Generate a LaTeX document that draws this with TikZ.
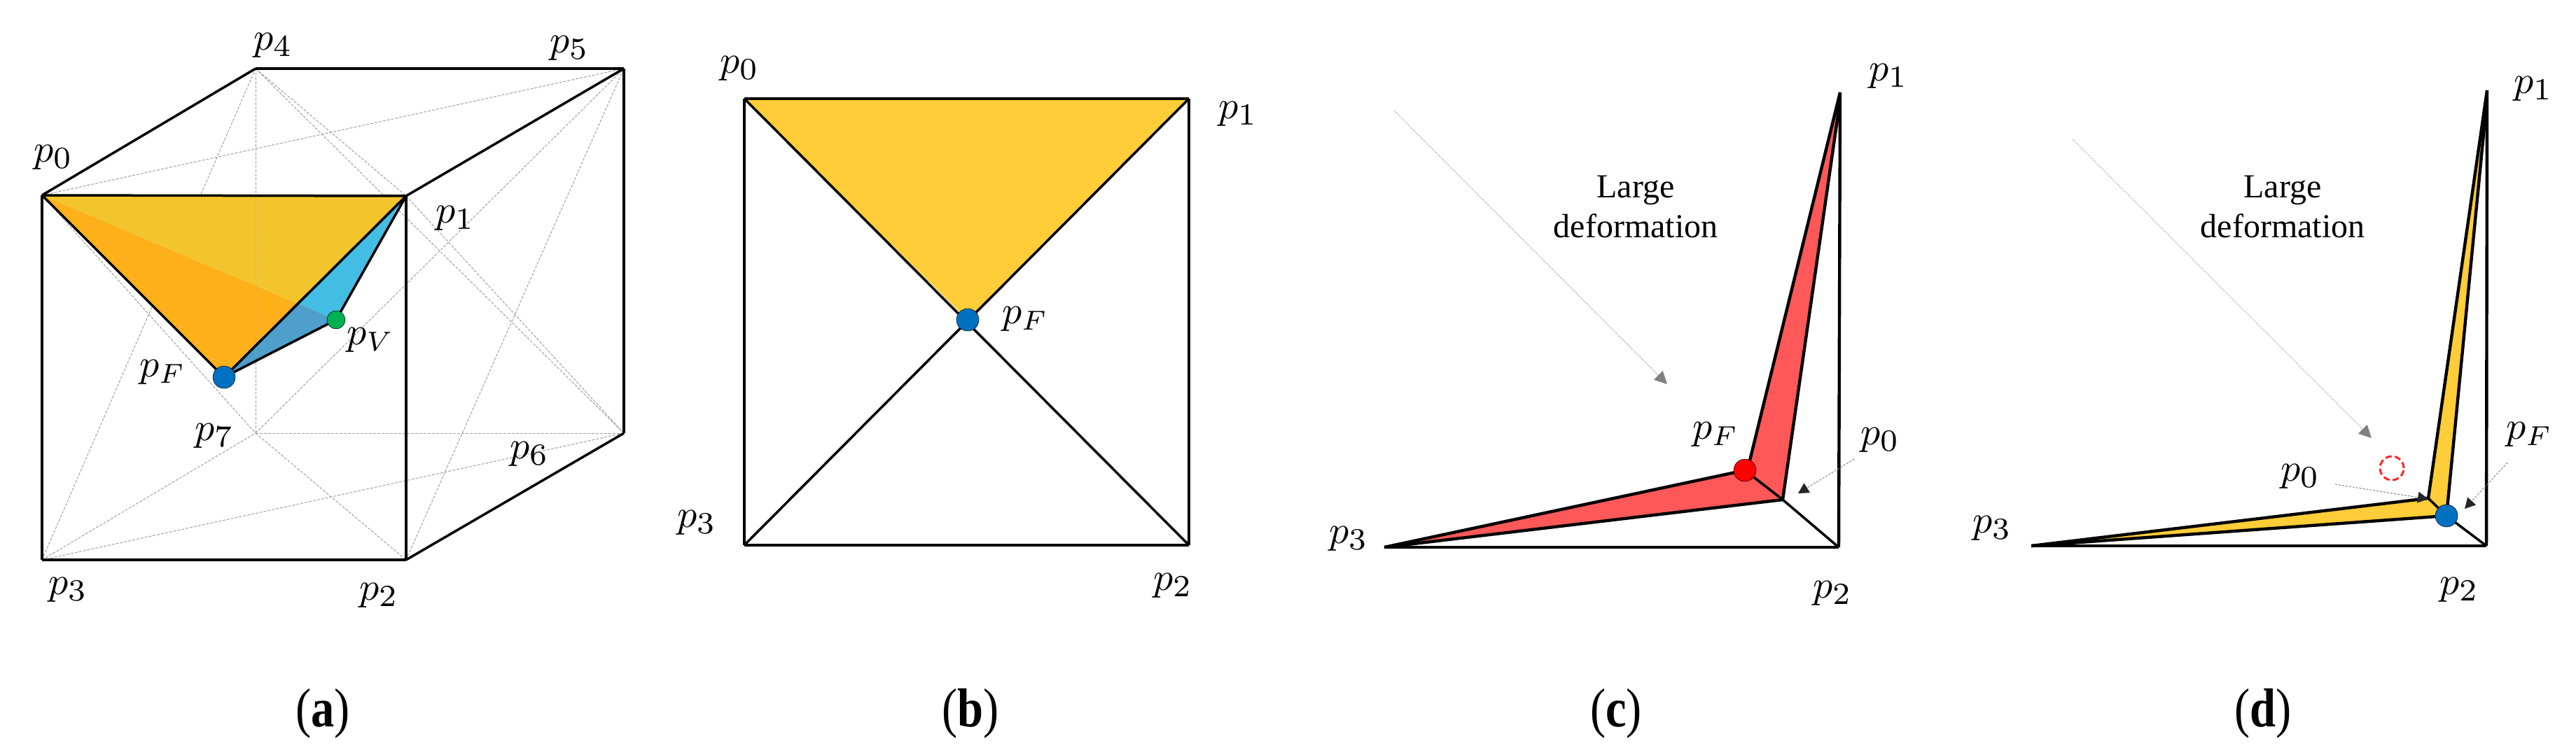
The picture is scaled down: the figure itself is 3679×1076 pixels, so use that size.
\documentclass[tikz,border=0pt]{standalone}
\usepackage{fontspec}
\setmainfont{Liberation Serif}
\usetikzlibrary{arrows.meta,calc}
\definecolor{gold}{HTML}{FFCD37}
\definecolor{ambertop}{HTML}{F2C52C}
\definecolor{amberlow}{HTML}{FDB01A}
\definecolor{skyblue}{HTML}{43BDE3}
\definecolor{steelb}{HTML}{4E9FCB}
\definecolor{dotblue}{HTML}{0070C0}
\definecolor{dotgreen}{HTML}{00B050}
\definecolor{salmon}{HTML}{FF5858}
\newcommand{\psb}[1]{$p_{\scalebox{1.12}{$\scriptstyle #1$}}$}
\tikzset{
 x=1pt,y=-1pt,
 blackedge/.style={line width=3.5pt,black,line join=miter},
 heavyedge/.style={line width=4.4pt,black},
 hiddenline/.style={line width=1pt,gray!75,dash pattern=on 4pt off 2pt},
 lbl/.style={scale=5.6,inner sep=0pt},
 caplabel/.style={xscale=.95,yscale=1.12,inner sep=0pt,font=\fontsize{70}{70}\selectfont},
 dotnode/.style={circle,draw=black,line width=0.5pt,inner sep=0pt,minimum size=32pt},
 bigtext/.style={font=\fontsize{48}{57}\selectfont,align=center,inner sep=0pt},
 grayarrow/.style={line width=1pt,gray!70,dash pattern=on 2pt off 1.5pt,-{Triangle[length=18pt,width=18pt,color=gray]}},
 blackarrow/.style={line width=1pt,gray,dash pattern=on 3pt off 2pt,-{Triangle[length=15pt,width=16pt,color=black!85]}},
}
\begin{document}
\begin{tikzpicture}
\useasboundingbox (0,0) rectangle (3679,1076);
% ---------- panel (a)
\coordinate (a0) at (60,279);
\coordinate (a1) at (580,280);
\coordinate (a2) at (580,800);
\coordinate (a3) at (60,800);
\coordinate (a4) at (365,98);
\coordinate (a5) at (891,98);
\coordinate (a6) at (891,619);
\coordinate (a7) at (365,619);
\coordinate (aF) at (320,539);
\coordinate (aV) at (480,457);
\coordinate (aX) at (intersection of a0--aV and a1--aF);
\foreach \u/\v in {a4/a7,a7/a6,a0/a5,a3/a6,a3/a4,a3/a7,a4/a1,a1/a6,a4/a6,a0/a7,a7/a2,a2/a5,a7/a5}
  \draw[hiddenline] (\u) -- (\v);
\fill[ambertop] (a0) -- (a1) -- (aX) -- cycle;
\fill[amberlow] (a0) -- (aX) -- (aF) -- cycle;
\fill[skyblue] (a1) -- (aV) -- (aX) -- cycle;
\fill[steelb] (aX) -- (aV) -- (aF) -- cycle;
\draw[hiddenline,opacity=.35] (a4) -- (a7);
\foreach \u/\v in {a0/a4,a4/a5,a5/a1,a6/a2,a0/a3,a3/a2,a2/a1,a0/a1,a0/aF,aF/a1,a1/aV,aV/aF}
  \draw[blackedge] (\u) -- (\v);
\draw[heavyedge] (a5) -- (a6);
\node[dotnode,fill=dotblue] (adF) at (aF) {};
\node[dotnode,fill=dotgreen,minimum size=26pt] (adV) at (aV) {};
\node[lbl] (la0) at (76,225) {\psb{0}};
\node[lbl] (la4) at (390,65) {\psb{4}};
\node[lbl] (la5) at (813,69) {\psb{5}};
\node[lbl] (la1) at (650,312) {\psb{1}};
\node[lbl] (laV) at (529,486) {$p_V$};
\node[lbl] (laF) at (232,532) {$p_F$};
\node[lbl] (la7) at (306,623) {\psb{7}};
\node[lbl] (la6) at (756,649) {\psb{6}};
\node[lbl] (la3) at (97,843) {\psb{3}};
\node[lbl] (la2) at (541,851) {\psb{2}};
\node[caplabel] (capa) at (461,1020) {(\textbf{a})};
% ---------- panel (b)
\coordinate (b0) at (1063,141);
\coordinate (b1) at (1698,141);
\coordinate (b2) at (1698,779);
\coordinate (b3) at (1063,779);
\coordinate (bF) at (1382,457);
\fill[gold] (b0) -- (b1) -- (bF) -- cycle;
\foreach \u/\v in {b0/b1,b1/b2,b2/b3,b3/b0,b0/b2,b1/b3}
  \draw[blackedge] (\u) -- (\v);
\node[dotnode,fill=dotblue] (bdF) at (bF) {};
\node[lbl] (lb0) at (1056,98) {\psb{0}};
\node[lbl] (lb1) at (1768,163) {\psb{1}};
\node[lbl] (lbF) at (1464,456) {$p_F$};
\node[lbl] (lb3) at (995,747) {\psb{3}};
\node[lbl] (lb2) at (1675,837) {\psb{2}};
\node[caplabel] (capb) at (1386,1020) {(\textbf{b})};
% ---------- panel (c)
\coordinate (c1) at (2628,132);
\coordinate (c2) at (2626,782);
\coordinate (c3) at (1977,782);
\coordinate (cF) at (2492,672);
\coordinate (cFu) at (2499,658);
\coordinate (cJ) at (2546,714);
\coordinate (c1i) at (2627,150);
\fill[salmon] (c1) -- (c1i) -- (cJ) -- (c3) -- (cF) -- (cFu) -- cycle;
\foreach \u/\v in {c2/c3,cF/cJ,cJ/c2}
  \draw[blackedge] (\u) -- (\v);
\foreach \u/\v in {c1/c2,c3/cF,cFu/c1,c1i/cJ,cJ/c3}
  \draw[heavyedge] (\u) -- (\v);
\node[dotnode,fill=red] (cdF) at (cF) {};
\node[lbl] (lc1) at (2697,109) {\psb{1}};
\node[lbl] (lcF) at (2450,621) {$p_F$};
\node[lbl] (lc0) at (2685,629) {\psb{0}};
\node[lbl] (lc3) at (1926,770) {\psb{3}};
\node[lbl] (lc2) at (2617,848) {\psb{2}};
\node[bigtext] (tc) at (2336,296) {Large\\deformation};
\coordinate (cgs) at (1991,158);
\coordinate (cge) at (2381,549);
\draw[grayarrow] (cgs) -- (cge);
\coordinate (cbs) at (2648,656);
\coordinate (cbe) at (2568,705);
\draw[blackarrow] (cbs) -- (cbe);
\node[caplabel] (capc) at (2308,1020) {(\textbf{c})};
% ---------- panel (d)
\coordinate (d1) at (3552,129);
\coordinate (d2) at (3551,780);
\coordinate (d3) at (2901,780);
\coordinate (dF) at (3494,737);
\coordinate (dJ) at (3468,712);
\coordinate (d1i) at (3551,150);
\fill[gold] (d1i) -- (dF) -- (d3) -- (dJ) -- (d1) -- cycle;
\foreach \u/\v in {d2/d3,dJ/dF,dF/d2}
  \draw[blackedge] (\u) -- (\v);
\foreach \u/\v in {d1/d2,d3/dJ,dJ/d1,d1i/dF,dF/d3}
  \draw[heavyedge] (\u) -- (\v);
\node[dotnode,fill=dotblue] (ddF) at (dF) {};
\node[circle,draw=red!85,line width=3pt,dash pattern=on 9pt off 4.5pt,inner sep=0pt,minimum size=34pt] (dghost) at (3416,669) {};
\node[lbl] (ld1) at (3618,127) {\psb{1}};
\node[lbl] (ldF) at (3612,621) {$p_F$};
\node[lbl] (ld0) at (3285,681) {\psb{0}};
\node[lbl] (ld3) at (2845,755) {\psb{3}};
\node[lbl] (ld2) at (3512,843) {\psb{2}};
\node[bigtext] (td) at (3260,296) {Large\\deformation};
\coordinate (dgs) at (2960,199);
\coordinate (dge) at (3387,626);
\draw[grayarrow] (dgs) -- (dge);
\coordinate (dbs) at (3335,692);
\coordinate (dbe) at (3468,713);
\draw[blackarrow] (dbs) -- (dbe);
\coordinate (dcs) at (3581,661);
\coordinate (dce) at (3520,727);
\draw[blackarrow] (dcs) -- (dce);
\node[caplabel] (capd) at (3232,1020) {(\textbf{d})};
\end{tikzpicture}
\end{document}
